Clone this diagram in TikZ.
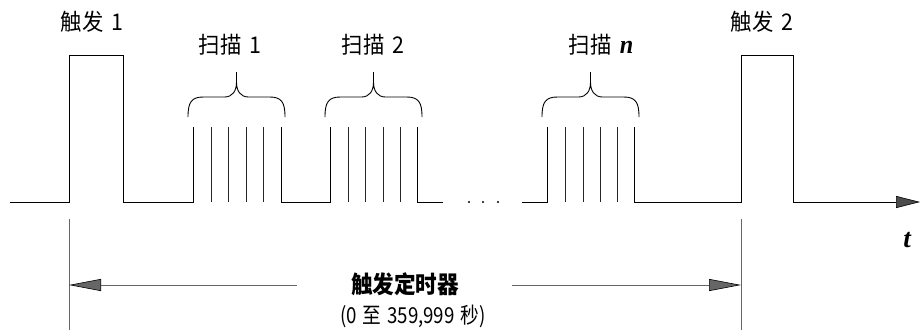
\documentclass[tikz,border=0pt]{standalone}
\usepackage{fontspec}
\newfontfamily\cjk{Noto Sans CJK SC}
\newfontfamily\serifbi{Liberation Serif}[BoldItalicFont={* Bold Italic}]
\usetikzlibrary{arrows.meta}
\begin{document}
\begin{tikzpicture}[x=1pt,y=-1pt,
  wave/.style={line width=0.9pt, black, line join=miter},
  thin/.style={line width=0.8pt, black!85},
  dim/.style={line width=0.9pt, black!60},
  dimtip/.style={-{Triangle[length=32pt,width=12pt,color=black,fill=black!60,line width=0.6pt]}},
  axistip/.style={-{Triangle[length=24pt,width=12pt,color=black,fill=black!70,line width=0.6pt]}},
  lab/.style={font=\cjk\fontsize{23}{26}\selectfont, xscale=0.93, inner sep=0pt},
  timerlab/.style={font=\cjk\bfseries\fontsize{24}{27}\selectfont, xscale=0.9, inner sep=0pt},
  rangelab/.style={font=\cjk\fontsize{22}{26}\selectfont, xscale=0.85, inner sep=0pt},
  var/.style={font=\serifbi\bfseries\itshape\fontsize{27}{30}\selectfont, inner sep=0pt},
  pics/scanbrace/.style={code={
    \draw[line width=0.9pt, black]
      (-48.5,45) .. controls (-48.5,30) and (-45,25) .. (-33,25)
      -- (-12,25) .. controls (-4,25) and (0,19) .. (0,10) -- (0,0)
      -- (0,10) .. controls (0,19) and (4,25) .. (12,25)
      -- (33,25) .. controls (45,25) and (48.5,30) .. (48.5,45);
  }}]
\useasboundingbox (0,0) rectangle (920,330);

% trigger pulses and scan bursts (baseline y=202, pulse top y=55, scan top y=127)
\coordinate (start) at (10,202);
\coordinate (t1a) at (69,202);
\coordinate (t1b) at (123,202);
\coordinate (s1a) at (193,202);
\coordinate (s1b) at (281,202);
\coordinate (s2a) at (330,202);
\coordinate (s2b) at (417,202);
\coordinate (gapL) at (443,202);
\coordinate (gapR) at (522,202);
\coordinate (sna) at (547,202);
\coordinate (snb) at (634,202);
\coordinate (t2a) at (741,202);
\coordinate (t2b) at (793,202);
\coordinate (axisend) at (920,202);

\draw[wave] (start) -- (t1a) -- ++(0,-147) -| (t1b) -- (s1a) -- ++(0,-75);
\draw[wave] (s1b) ++(0,-75) -- (s1b) -- (s2a) -- ++(0,-75);
\draw[wave] (s2b) ++(0,-75) -- (s2b) -- (gapL);
\draw[wave] (gapR) -- (sna) -- ++(0,-75);
\draw[wave] (snb) ++(0,-75) -- (snb) -- (t2a) -- ++(0,-147) -| (t2b);
\draw[wave, axistip] (t2b) -- (axisend);

% inner scan lines
\foreach \x in {211,228,246,263, 348,365,383,400, 565,583,600,617}
  \draw[thin] (\x,127) -- (\x,202);

% ellipsis dots
\foreach \x in {469,483,498}
  \fill[black] (\x,202) circle (1.1pt);

% braces
\pic at (236.5,72) {scanbrace};
\pic at (373.5,72) {scanbrace};
\pic at (590.5,72) {scanbrace};

% labels
\node[lab] (trig1) at (92,22) {触发\hspace{0.35em}1};
\node[lab] (trig2) at (762,22) {触发\hspace{0.35em}2};
\node[lab] (scan1) at (230,45) {扫描\hspace{0.35em}1};
\node[lab] (scan2) at (373,45) {扫描\hspace{0.35em}2};
\node[lab] (scann) at (601,45) {扫描\hspace{0.4em}{\serifbi\bfseries\itshape\fontsize{26}{28}\selectfont n}};
\node[var] (tlab) at (907,240) {t};

% timer dimension
\coordinate (vl1) at (69,219);
\coordinate (vl2) at (69,330);
\coordinate (vr1) at (741,219);
\coordinate (vr2) at (741,330);
\draw[dim] (vl1) -- (vl2);
\draw[dim] (vr1) -- (vr2);
\node[timerlab] (timer) at (405,284) {触发定时器};
\node[rangelab] (range) at (413,316) {(0\hspace{0.3em}至\hspace{0.3em}359,999\hspace{0.3em}秒)};
\coordinate (arrL) at (69,285);
\coordinate (arrR) at (741,285);
\coordinate (lineL) at (297,285);
\coordinate (lineR) at (512,285);
\draw[dim, dimtip] (lineL) -- (arrL);
\draw[dim, dimtip] (lineR) -- (arrR);
\end{tikzpicture}
\end{document}
